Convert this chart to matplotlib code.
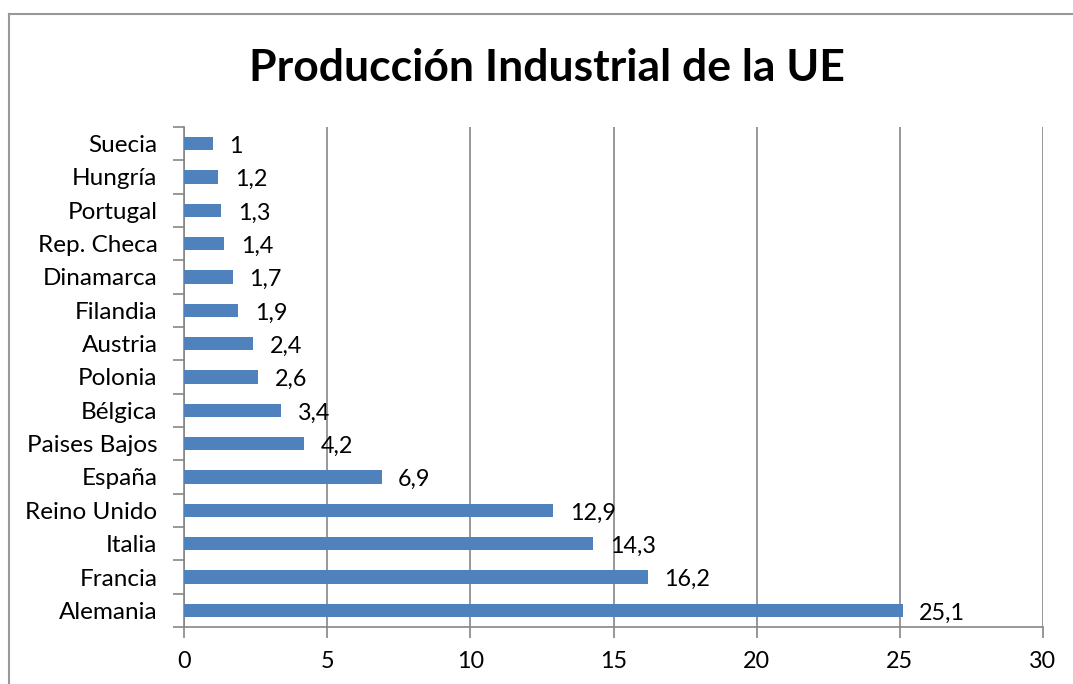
import matplotlib.pyplot as plt
from matplotlib.lines import Line2D

plt.rcParams['font.family'] = ['Lato', 'DejaVu Sans']

paises = ['Alemania', 'Francia', 'Italia', 'Reino Unido', 'España', 'Paises Bajos',
          'Bélgica', 'Polonia', 'Austria', 'Filandia', 'Dinamarca', 'Rep. Checa',
          'Portugal', 'Hungría', 'Suecia']
valores = [25.1, 16.2, 14.3, 12.9, 6.9, 4.2, 3.4, 2.6, 2.4, 1.9, 1.7, 1.4, 1.3, 1.2, 1]
x_ticks = [0, 5, 10, 15, 20, 25, 30]

W, H = 1073, 684
fig = plt.figure(figsize=(W / 100, H / 100), dpi=100)
ax = fig.add_axes([184 / W, 1 - 627 / H, (1043 - 184) / W, (627 - 127) / H])

grey = '#868686'
pos = list(range(len(paises)))
ax.barh(pos, valores, height=0.4, color='#4F81BD', zorder=3)

for p, v in zip(pos, valores):
    etiqueta = f'{v:g}'.replace('.', ',')
    ax.annotate(etiqueta, (v, p), xytext=(12, -2), textcoords='offset points',
                ha='left', va='center', fontsize=16.8)

ax.set_xlim(0, 30)
ax.set_ylim(-0.5, len(paises) - 0.5)
ax.set_xticks(x_ticks)
ax.set_xticklabels([str(t) for t in x_ticks], fontsize=16.8)
ax.set_yticks(pos)
ax.set_yticklabels(paises, fontsize=17.5)
ax.set_yticks([p - 0.5 for p in pos] + [len(paises) - 0.5], minor=True)
ax.tick_params(axis='y', which='major', length=0, pad=19)
ax.tick_params(axis='y', which='minor', length=8, color=grey, width=1.2)
ax.tick_params(axis='x', length=8, color=grey, width=1.2, pad=9)

ax.grid(axis='x', color=grey, linewidth=1.2, zorder=0)
for s in ['top', 'right']:
    ax.spines[s].set_visible(False)
for s in ['left', 'bottom']:
    ax.spines[s].set_color(grey)
    ax.spines[s].set_linewidth(1.2)

fig.text(547 / W, 1 - 68 / H, 'Producción Industrial de la UE', ha='center', va='center',
         fontsize=32, fontweight='bold')

# marco del gráfico
fig.add_artist(Line2D([9 / W, 9 / W], [0, 1 - 14 / H], color='#999999', linewidth=1.5))
fig.add_artist(Line2D([9 / W, 1], [1 - 14 / H, 1 - 14 / H], color='#999999', linewidth=1.5))

fig.savefig('out.png', dpi=100)
